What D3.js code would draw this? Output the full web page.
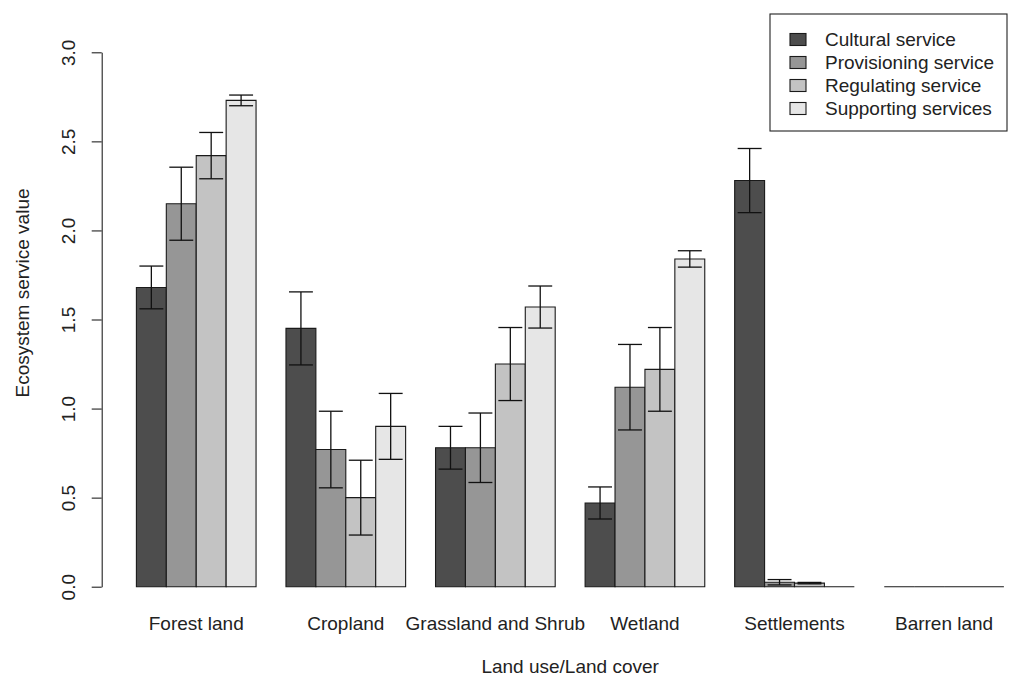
<!DOCTYPE html>
<html>
<head>
<meta charset="utf-8">
<script src="https://cdn.jsdelivr.net/npm/d3@7"></script>
<style>
  html, body { margin: 0; padding: 0; background: #fff; }
  svg { display: block; }
  text { font-family: "Liberation Sans", Arial, sans-serif; fill: #222; }
</style>
</head>
<body>
<svg id="chart" width="1016" height="678"></svg>
<script>
// Land use / land cover classes
const categories = ["Forest land", "Cropland", "Grassland and Shrub", "Wetland", "Settlements", "Barren land"];
// Ecosystem service types
const series = ["Cultural service", "Provisioning service", "Regulating service", "Supporting services"];

// Mean ecosystem service value per class
const cultural     = [1.68, 1.45, 0.78, 0.47, 2.28, 0];
const provisioning = [2.15, 0.77, 0.78, 1.12, 0.025, 0];
const regulating   = [2.42, 0.50, 1.25, 1.22, 0.02, 0];
const supporting   = [2.73, 0.90, 1.57, 1.84, 0, 0];

// Error bar half-lengths
const culturalErr     = [0.12, 0.205, 0.12, 0.09, 0.18, 0];
const provisioningErr = [0.205, 0.215, 0.195, 0.24, 0.015, 0];
const regulatingErr   = [0.13, 0.21, 0.205, 0.235, 0.004, 0];
const supportingErr   = [0.03, 0.185, 0.118, 0.046, 0, 0];

const yTicks = [0, 0.5, 1.0, 1.5, 2.0, 2.5, 3.0];
const fills = ["#4d4d4d", "#969696", "#c3c3c3", "#e6e6e6"];

const values = [cultural, provisioning, regulating, supporting];
const errors = [culturalErr, provisioningErr, regulatingErr, supportingErr];

const rows = [];
categories.forEach((c, i) => {
  series.forEach((s, j) => {
    rows.push({ cat: c, ser: s, idx: j, value: values[j][i], err: errors[j][i] });
  });
});

const svg = d3.select("#chart");
const fontSize = 19;

// bar-unit scale: bars occupy units 1..30, 4% padding either side
const unit = d3.scaleLinear().domain([-0.16, 31.16]).range([101.7, 1038.6]);
const x0 = d3.scaleBand().domain(categories)
  .range([unit(1), unit(30)]).paddingInner(0.2).paddingOuter(0);
const x1 = d3.scaleBand().domain(series).range([0, x0.bandwidth()]);
const y = d3.scaleLinear().domain([0, 3]).range([586.7, 52.3]);

// bars drawn as closed paths so that zero-valued bars still show as a line
const g = svg.append("g");
g.selectAll("path.bar").data(rows).join("path")
  .attr("class", "bar")
  .attr("d", d => {
    const xl = x0(d.cat) + x1(d.ser), xr = xl + x1.bandwidth();
    const yb = y(0), yt = y(d.value);
    return `M${xl},${yb}L${xl},${yt}L${xr},${yt}L${xr},${yb}Z`;
  })
  .attr("fill", d => fills[d.idx])
  .attr("stroke", "#1a1a1a")
  .attr("stroke-width", 1.1);

// error bars
const cap = x1.bandwidth() * 0.4;
const cx = d => x0(d.cat) + x1(d.ser) + x1.bandwidth() / 2;
const eb = g.selectAll("g.err").data(rows.filter(d => d.err > 0)).join("g")
  .attr("class", "err")
  .attr("stroke", "#111")
  .attr("stroke-width", 1.3);
eb.append("line")
  .attr("x1", cx).attr("x2", cx)
  .attr("y1", d => y(d.value - d.err))
  .attr("y2", d => y(d.value + d.err));
eb.append("line")
  .attr("x1", d => cx(d) - cap).attr("x2", d => cx(d) + cap)
  .attr("y1", d => y(d.value + d.err))
  .attr("y2", d => y(d.value + d.err));
eb.append("line")
  .attr("x1", d => cx(d) - cap).attr("x2", d => cx(d) + cap)
  .attr("y1", d => y(d.value - d.err))
  .attr("y2", d => y(d.value - d.err));

// y axis
const yAxis = svg.append("g")
  .attr("transform", `translate(${unit(-0.16)},0)`)
  .call(d3.axisLeft(y).tickValues(yTicks).tickFormat(d3.format(".1f"))
    .tickSizeOuter(0).tickSizeInner(10).tickPadding(0));
yAxis.select(".domain").attr("stroke", "#222").attr("stroke-width", 1.1);
yAxis.selectAll(".tick line").attr("stroke", "#222").attr("stroke-width", 1.1);
yAxis.selectAll(".tick text")
  .attr("font-family", "Liberation Sans, Arial, sans-serif")
  .attr("font-size", fontSize)
  .attr("fill", "#222")
  .attr("transform", "rotate(-90)")
  .attr("text-anchor", "middle")
  .attr("x", 0)
  .attr("y", -27)
  .attr("dy", 0);

// category labels
svg.append("g").selectAll("text").data(categories).join("text")
  .attr("x", d => x0(d) + x0.bandwidth() / 2)
  .attr("y", 630)
  .attr("text-anchor", "middle")
  .attr("font-size", fontSize)
  .text(d => d);

// axis titles
svg.append("text")
  .attr("x", unit((-0.16 + 31.16) / 2))
  .attr("y", 673)
  .attr("text-anchor", "middle")
  .attr("font-size", fontSize)
  .text("Land use/Land cover");

svg.append("text")
  .attr("transform", "translate(29,293) rotate(-90)")
  .attr("text-anchor", "middle")
  .attr("font-size", fontSize)
  .text("Ecosystem service value");

// legend
const lg = svg.append("g");
lg.append("rect")
  .attr("x", 770).attr("y", 14).attr("width", 237).attr("height", 117)
  .attr("fill", "#fff").attr("stroke", "#222").attr("stroke-width", 1.1);
const items = lg.selectAll("g.item").data(series).join("g")
  .attr("class", "item")
  .attr("transform", (d, i) => `translate(0,${39.5 + i * 23})`);
items.append("rect")
  .attr("x", 790).attr("y", -6).attr("width", 16).attr("height", 12)
  .attr("fill", (d, i) => fills[i])
  .attr("stroke", "#1a1a1a").attr("stroke-width", 1.1);
items.append("text")
  .attr("x", 825).attr("y", 6.5)
  .attr("font-size", fontSize)
  .text(d => d);
</script>
</body>
</html>
